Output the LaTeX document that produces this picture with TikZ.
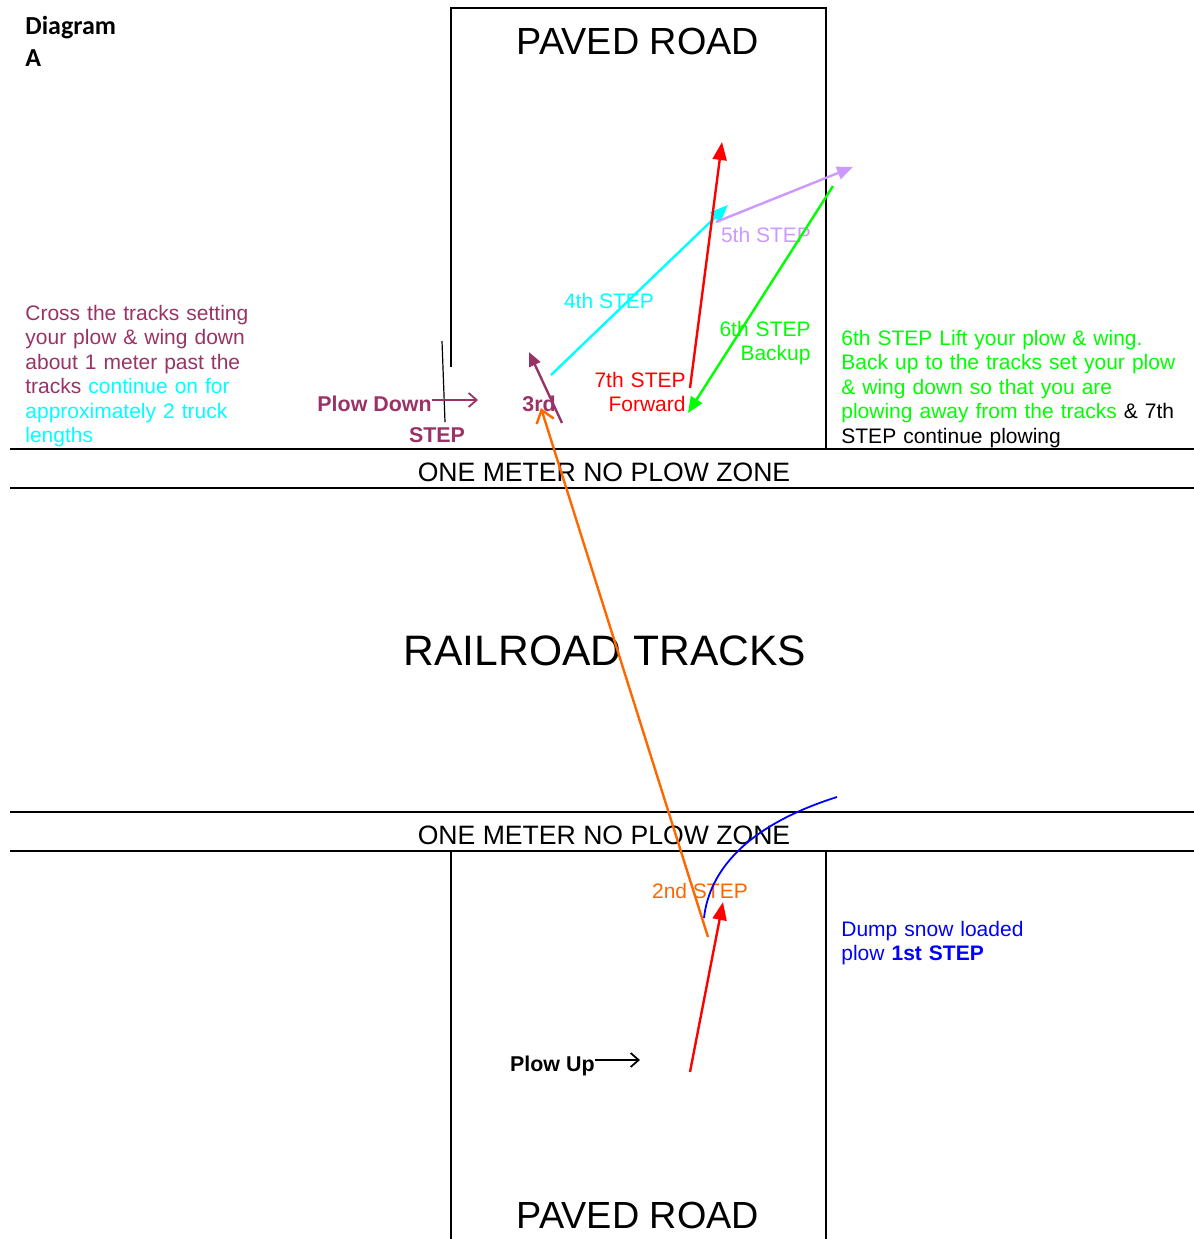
\documentclass[tikz,border=0pt]{standalone}
\usepackage{fontspec}
\setmainfont{Liberation Sans}
\newfontfamily\calibri{Carlito}
\usetikzlibrary{arrows.meta}
\definecolor{plum}{RGB}{153,51,102}
\definecolor{lilac}{RGB}{204,153,255}
\definecolor{orng}{RGB}{255,102,0}
\definecolor{stepgreen}{RGB}{0,255,0}
\definecolor{aqua}{RGB}{0,255,255}
\definecolor{pureblue}{RGB}{0,0,255}
\definecolor{purered}{RGB}{255,0,0}
\tikzset{
  txt/.style={inner sep=0pt,font=\fontsize{10.5}{12.25}\selectfont},
  boldtxt/.style={inner sep=0pt,font=\bfseries\fontsize{10.7}{13}\selectfont},
  road/.style={line width=0.8pt},
  move/.style={line width=1.2pt,-{Triangle[length=9pt,width=7pt]}},
}

\begin{document}
\begin{tikzpicture}[x=0.5pt,y=-0.5pt]
    \useasboundingbox (0,0) rectangle (1194,1239);
    % Coordinates
    \coordinate (A) at (451,367);
    \coordinate (B) at (451,8);
    \coordinate (C) at (826,8);
    \coordinate (D) at (826,449);
    \coordinate (E) at (451,1239);
    \coordinate (F) at (451,851);
    \coordinate (G) at (826,851);
    \coordinate (H) at (826,1239);
    % Roads and zones
    \draw[road] (A)--(B)--(C)--(D);
    \draw[road] (F)--(E);
    \draw[road] (G)--(H);
    \foreach \y in {449,488,812,851} {
        \draw[road] (10,\y)--(1194,\y);
    }
    \draw[line width=0.6pt] (442,341)--(445,422);
    % Titles
    \node[inner sep=0pt,anchor=base west,font=\calibri\bfseries\fontsize{13}{16}\selectfont] (diag) at (25,34) {Diagram};
    \node[inner sep=0pt,anchor=base west,font=\calibri\bfseries\fontsize{13}{16}\selectfont] (diagA) at (25,66) {A};
    \node[inner sep=0pt,anchor=base,font=\fontsize{18.9}{21}\selectfont] (pavedtop) at (638,54) {PAVED ROAD};
    \node[inner sep=0pt,anchor=base,font=\fontsize{18.9}{21}\selectfont] (pavedbot) at (638,1228) {PAVED ROAD};
    \node[inner sep=0pt,anchor=base,font=\fontsize{13.3}{15}\selectfont] (zonetop) at (604,481) {ONE METER NO PLOW ZONE};
    \node[inner sep=0pt,anchor=base,font=\fontsize{13.3}{15}\selectfont] (zonebot) at (604,844) {ONE METER NO PLOW ZONE};
    \node[inner sep=0pt,anchor=base,font=\fontsize{21.3}{24}\selectfont] (tracks) at (605,665) {RAILROAD TRACKS};
    % Notes
    \node[txt,anchor=base west,text width=125pt,align=left,text=plum] (cross) at (25,320)
        {Cross the tracks setting\\your plow \& wing down\\about 1 meter past the\\tracks {\color{aqua}continue on for\\approximately 2 truck\\lengths}};
    \node[txt,anchor=base west,text width=175pt,align=left,text=stepgreen] (lift) at (841,345)
        {6th STEP Lift your plow \& wing.\\Back up to the tracks set your plow\\\& wing down so that you are\\plowing away from the tracks {\color{black}\& 7th\\STEP continue plowing}};
    \node[txt,anchor=base west,text width=100pt,align=left,text=pureblue] (dump) at (841,936)
        {Dump snow loaded\\plow \textbf{1st STEP}};
    % Step labels
    \node[boldtxt,anchor=base east,text=plum] (pd) at (432,411) {Plow Down};
    \node[boldtxt,anchor=base,text=plum] (pdstep) at (437,442) {STEP};
    \node[boldtxt,anchor=base,text=plum] (third) at (539,411) {3rd};
    \node[boldtxt,anchor=base east] (pu) at (595,1071) {Plow Up};
    \node[txt,anchor=base,text=aqua] (fourth) at (609,308) {4th STEP};
    \node[txt,anchor=base,text=lilac] (fifth) at (766,242) {5th STEP};
    \node[txt,anchor=base east,text width=60pt,align=right,text=stepgreen] (sixth) at (811,336) {6th STEP\\Backup};
    \node[txt,anchor=base east,text width=60pt,align=right,text=purered] (seventh) at (686,387) {7th STEP\\Forward};
    \node[txt,anchor=base,text=orng] (second) at (700,898) {2nd STEP};
    % Moves
    \coordinate (P1) at (690,1072);
    \coordinate (P2) at (723,902);
    \coordinate (P3) at (708,937);
    \coordinate (P4) at (541,408);
    \coordinate (P5) at (562,423);
    \coordinate (P6) at (529,352);
    \coordinate (P7) at (551,375);
    \coordinate (P8) at (728,205);
    \coordinate (P9) at (716,222);
    \coordinate (P10) at (853,167);
    \coordinate (P11) at (833,186);
    \coordinate (P12) at (688,413);
    \coordinate (P13) at (690,388);
    \coordinate (P14) at (722,142);
    \coordinate (Q1) at (704,918);
    \coordinate (Q2) at (837,797);
    \coordinate (pdtip) at (478,400);
    \coordinate (putip) at (640,1060);
    \draw[pureblue,line width=0.9pt] (Q1) .. controls (709,872) and (745,826) .. (Q2);
    \draw[move,purered] (P1)--(P2);
    \draw[line width=1.2pt,orng,-{Straight Barb[length=6pt,width=9pt]}] (P3)--(P4);
    \draw[move,plum,-{Triangle[length=7pt,width=6pt]}] (P5)--(P6);
    \draw[move,aqua] (P7)--(P8);
    \draw[move,lilac,-{Triangle[length=8pt,width=6.5pt]}] (P9)--(P10);
    \draw[move,stepgreen,-{Triangle[length=8pt,width=6.5pt]}] (P11)--(P12);
    \draw[move,purered] (P13)--(P14);
    \draw[plum,line width=0.9pt,-{Straight Barb[length=4pt,width=7pt]}] (pd.east |- pdtip)--(pdtip);
    \draw[line width=0.9pt,-{Straight Barb[length=4pt,width=7pt]}] (pu.east |- putip)--(putip);
\end{tikzpicture}
\end{document}
